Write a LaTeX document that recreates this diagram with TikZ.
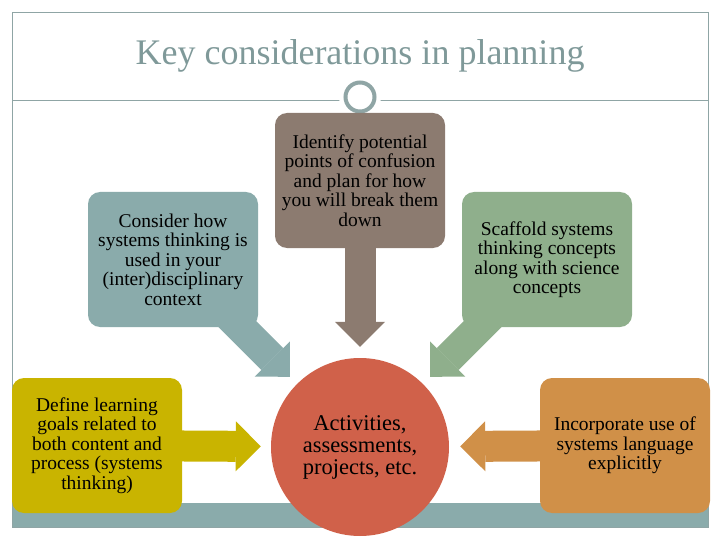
\documentclass[tikz,border=0pt]{standalone}
\usepackage{fontspec}
\setmainfont{Liberation Serif}
\usepackage{tikz}
\usetikzlibrary{arrows.meta,backgrounds}

\definecolor{frameteal}{HTML}{8AABAB}
\definecolor{lineteal}{HTML}{8FA5A5}
\definecolor{titlegray}{HTML}{7F9999}
\definecolor{boxbrown}{HTML}{8C7B70}
\definecolor{boxgreen}{HTML}{8FAF8C}
\definecolor{boxyellow}{HTML}{C9B400}
\definecolor{boxorange}{HTML}{D09048}
\definecolor{circlered}{HTML}{D0614A}

\begin{document}
\begin{tikzpicture}[x=1pt, y=-1pt,
			box_style/.style={rectangle,rounded corners=12pt,minimum width=170pt,minimum height=135pt,inner sep=0pt,align=center,font=\fontsize{19.5}{19.5}\selectfont},
			hub_style/.style={circle,fill=circlered,minimum size=178pt,inner sep=0pt,align=center,font=\fontsize{22.5}{22}\selectfont},
			arrow_style/.style={line width=31pt,-{Triangle[width=50pt,length=25pt,line width=0pt]}}]
			\useasboundingbox (0,0) rectangle (720,540);
			% frame and title
			\fill[frameteal] (12,503) rectangle (708,527);
			\draw[lineteal, line width=0.8pt] (12,12) rectangle (708,527);
			\draw[lineteal, line width=0.8pt] (12,100) -- (708,100);
			\node[text=titlegray, font=\fontsize{36}{40}\selectfont] (title) at (360,56) {Key considerations in planning};
			\fill[white] (360,97) circle (21pt);
			\node[circle, draw=lineteal, line width=4pt, fill=white, minimum size=29pt, inner sep=0pt] (ring) at (360,97) {};
			% boxes
			\node[box_style, fill=frameteal] (consider) at (173,259.5) {Consider how\\systems thinking is\\used in your\\(inter)disciplinary\\context};
			\node[box_style, fill=boxbrown] (identify) at (360,180.5) {Identify potential\\points of confusion\\and plan for how\\you will break them\\down};
			\node[box_style, fill=boxgreen] (scaffold) at (547,259.5) {Scaffold systems\\thinking concepts\\along with science\\concepts};
			\node[box_style, fill=boxyellow] (define) at (97,445.5) {Define learning\\goals related to\\both content and\\process (systems\\thinking)};
			\node[box_style, fill=boxorange] (incorporate) at (625,445.5) {Incorporate use of\\systems language\\explicitly};
			\node[hub_style] (act) at (360,447) {Activities,\\assessments,\\projects, etc.};
			% arrows
			\begin{scope}[on background layer]
			\draw[arrow_style, frameteal, shorten <=-30pt, shorten >=10pt] (consider) -- (act);
			\draw[arrow_style, boxbrown, shorten <=-10pt, shorten >=11pt] (identify) -- (act);
			\draw[arrow_style, boxgreen, shorten <=-30pt, shorten >=10pt] (scaffold) -- (act);
			\draw[arrow_style, boxyellow, shorten <=-10pt, shorten >=10pt] (define) -- (act);
			\draw[arrow_style, boxorange, shorten <=-10pt, shorten >=11pt] (incorporate) -- (act);
			\end{scope}
			\end{tikzpicture}
\end{document}
